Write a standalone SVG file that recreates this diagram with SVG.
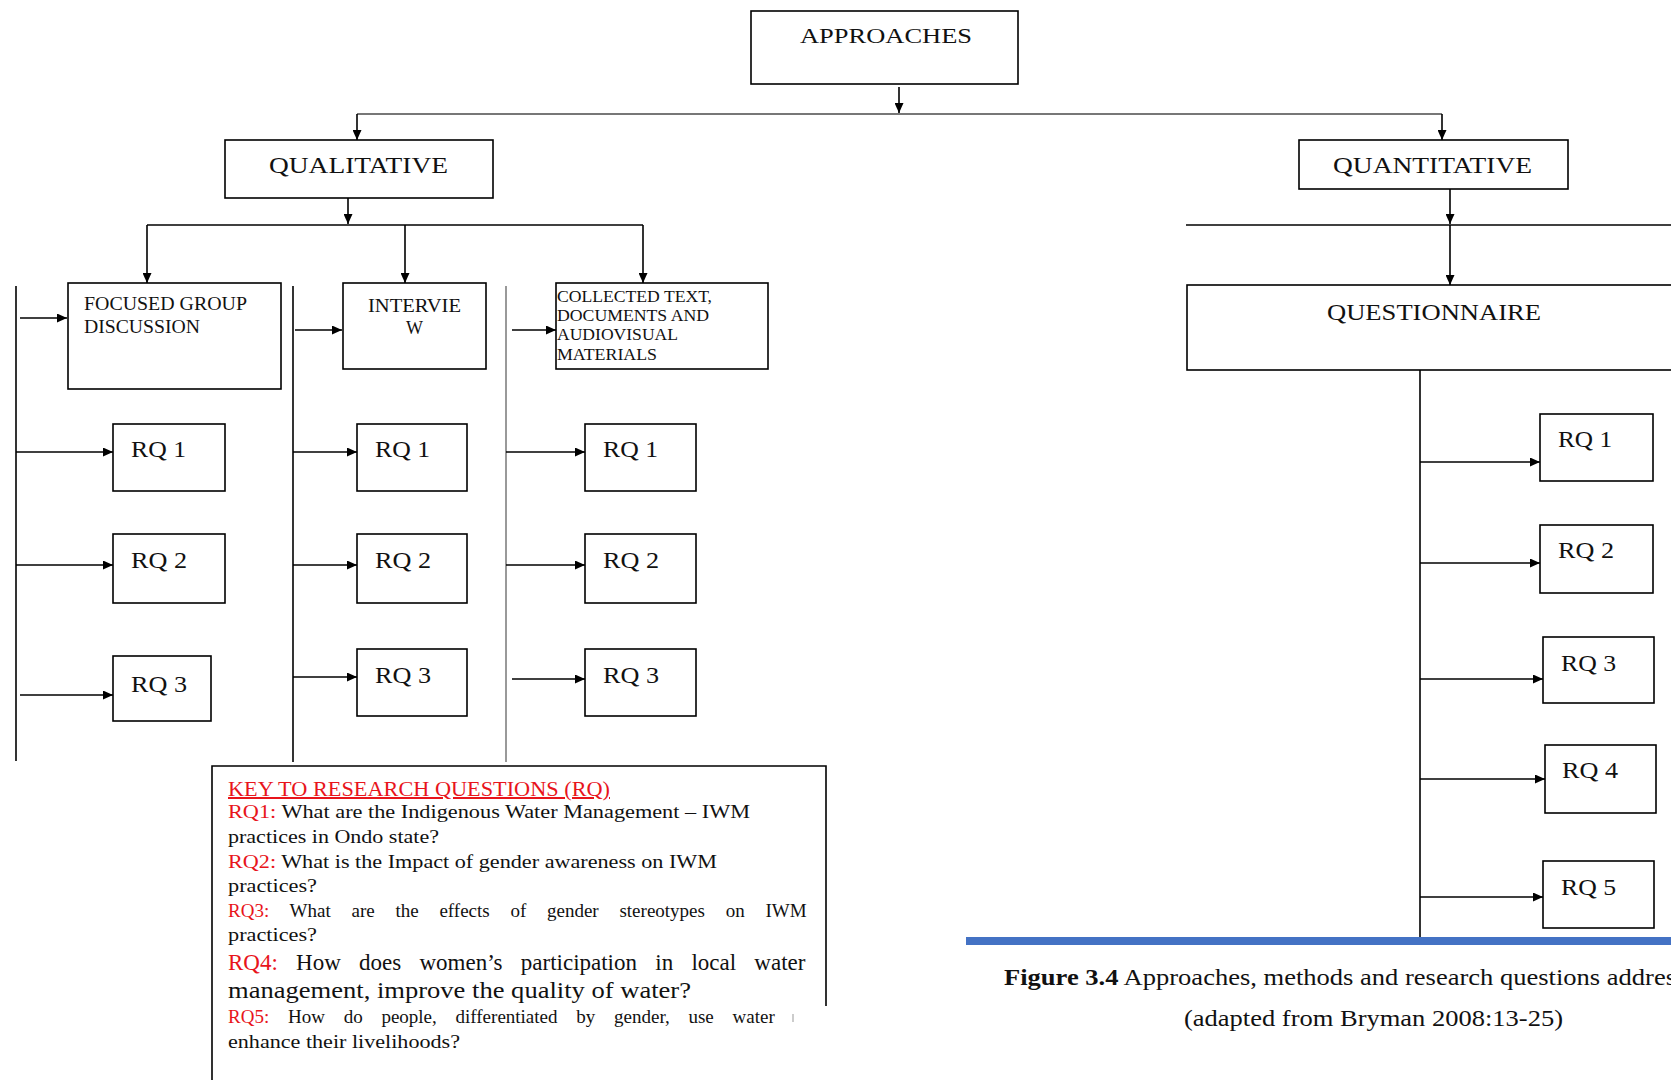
<svg xmlns="http://www.w3.org/2000/svg" width="1671" height="1080" viewBox="0 0 1671 1080">
<style>
.box{fill:#fff;stroke:#000;stroke-width:1.6}
.t{font-family:"Liberation Serif","Times New Roman",serif;fill:#111}
.c{stroke:#000;stroke-width:1.6;fill:none}
.ca{stroke:#000;stroke-width:1.6;fill:none;marker-end:url(#ah)}
.red{fill:#e8141b}
</style>
<defs>
<marker id="ah" markerUnits="userSpaceOnUse" markerWidth="10" markerHeight="9" refX="10" refY="4.5" orient="auto">
<path d="M0,0 L10,4.5 L0,9 z" fill="#000"/>
</marker>
</defs>
<rect width="1671" height="1080" fill="#fff"/>

<g id="connectors">
<line class="ca" x1="899" y1="87" x2="899" y2="113"/>
<line x1="357" y1="114" x2="1442" y2="114" stroke="#777" stroke-width="2"/>
<line class="ca" x1="357" y1="114" x2="357" y2="140"/>
<line class="ca" x1="1442" y1="114" x2="1442" y2="140"/>
<line class="ca" x1="348" y1="198" x2="348" y2="224"/>
<line class="c" x1="147" y1="225" x2="643" y2="225"/>
<line class="ca" x1="147" y1="225" x2="147" y2="283"/>
<line class="ca" x1="405" y1="225" x2="405" y2="283"/>
<line class="ca" x1="643" y1="225" x2="643" y2="283"/>
<line class="ca" x1="1450" y1="189" x2="1450" y2="224"/>
<line class="c" x1="1186" y1="225" x2="1671" y2="225"/>
<line class="ca" x1="1450" y1="225" x2="1450" y2="285"/>
<line class="c" x1="16" y1="286" x2="16" y2="761"/>
<line class="c" x1="293" y1="286" x2="293" y2="762"/>
<line x1="506" y1="286" x2="506" y2="762" stroke="#555" stroke-width="1.2"/>
<line class="ca" x1="20" y1="318" x2="67" y2="318"/>
<line class="ca" x1="295" y1="330" x2="342" y2="330"/>
<line class="ca" x1="512" y1="330" x2="556" y2="330"/>
<line class="ca" x1="16" y1="452" x2="113" y2="452"/>
<line class="ca" x1="16" y1="565" x2="113" y2="565"/>
<line class="ca" x1="20" y1="695" x2="113" y2="695"/>
<line class="ca" x1="293" y1="452" x2="357" y2="452"/>
<line class="ca" x1="293" y1="565" x2="357" y2="565"/>
<line class="ca" x1="293" y1="677" x2="357" y2="677"/>
<line class="ca" x1="506" y1="452" x2="585" y2="452"/>
<line class="ca" x1="506" y1="565" x2="585" y2="565"/>
<line class="ca" x1="512" y1="679" x2="585" y2="679"/>
<line class="c" x1="1420" y1="370" x2="1420" y2="937"/>
<line class="ca" x1="1420" y1="462" x2="1540" y2="462"/>
<line class="ca" x1="1420" y1="563" x2="1540" y2="563"/>
<line class="ca" x1="1420" y1="679" x2="1543" y2="679"/>
<line class="ca" x1="1420" y1="779" x2="1545" y2="779"/>
<line class="ca" x1="1420" y1="897" x2="1543" y2="897"/>
</g>

<g id="approaches"><rect class="box" x="751" y="11" width="267" height="73"/><text class="t" x="800" y="43" font-size="22" textLength="172" lengthAdjust="spacingAndGlyphs">APPROACHES</text></g>
<g id="qualitative"><rect class="box" x="225" y="140" width="268" height="58"/><text class="t" x="269" y="173" font-size="24" textLength="179" lengthAdjust="spacingAndGlyphs">QUALITATIVE</text></g>
<g id="quantitative"><rect class="box" x="1299" y="140" width="269" height="49"/><text class="t" x="1333" y="173" font-size="24" textLength="199" lengthAdjust="spacingAndGlyphs">QUANTITATIVE</text></g>
<g id="fgd"><rect class="box" x="68" y="283" width="213" height="106"/><text class="t" font-size="18"><tspan x="84" y="310" textLength="163" lengthAdjust="spacingAndGlyphs">FOCUSED GROUP</tspan><tspan x="84" y="333" textLength="116" lengthAdjust="spacingAndGlyphs">DISCUSSION</tspan></text></g>
<g id="interview"><rect class="box" x="343" y="283" width="143" height="86"/><text class="t" font-size="18"><tspan x="368" y="312" textLength="93" lengthAdjust="spacingAndGlyphs">INTERVIE</tspan><tspan x="406" y="334">W</tspan></text></g>
<g id="collected"><rect class="box" x="556" y="283" width="212" height="86"/><text class="t" font-size="17"><tspan x="557" y="302" textLength="155" lengthAdjust="spacingAndGlyphs">COLLECTED TEXT,</tspan><tspan x="557" y="321" textLength="152" lengthAdjust="spacingAndGlyphs">DOCUMENTS AND</tspan><tspan x="557" y="340" textLength="121" lengthAdjust="spacingAndGlyphs">AUDIOVISUAL</tspan><tspan x="557" y="360" textLength="100" lengthAdjust="spacingAndGlyphs">MATERIALS</tspan></text></g>
<g id="questionnaire"><rect class="box" x="1187" y="285" width="500" height="85"/><text class="t" x="1327" y="320" font-size="23" textLength="214" lengthAdjust="spacingAndGlyphs">QUESTIONNAIRE</text></g>

<g id="fgd-rq1"><rect class="box" x="113" y="424" width="112" height="67"/><text class="t" x="131" y="457" font-size="24" textLength="55" lengthAdjust="spacingAndGlyphs">RQ 1</text></g>
<g id="fgd-rq2"><rect class="box" x="113" y="534" width="112" height="69"/><text class="t" x="131" y="568" font-size="24" textLength="56" lengthAdjust="spacingAndGlyphs">RQ 2</text></g>
<g id="fgd-rq3"><rect class="box" x="113" y="656" width="98" height="65"/><text class="t" x="131" y="692" font-size="24" textLength="56" lengthAdjust="spacingAndGlyphs">RQ 3</text></g>
<g id="int-rq1"><rect class="box" x="357" y="424" width="110" height="67"/><text class="t" x="375" y="457" font-size="24" textLength="55" lengthAdjust="spacingAndGlyphs">RQ 1</text></g>
<g id="int-rq2"><rect class="box" x="357" y="534" width="110" height="69"/><text class="t" x="375" y="568" font-size="24" textLength="56" lengthAdjust="spacingAndGlyphs">RQ 2</text></g>
<g id="int-rq3"><rect class="box" x="357" y="649" width="110" height="67"/><text class="t" x="375" y="683" font-size="24" textLength="56" lengthAdjust="spacingAndGlyphs">RQ 3</text></g>
<g id="col-rq1"><rect class="box" x="585" y="424" width="111" height="67"/><text class="t" x="603" y="457" font-size="24" textLength="55" lengthAdjust="spacingAndGlyphs">RQ 1</text></g>
<g id="col-rq2"><rect class="box" x="585" y="534" width="111" height="69"/><text class="t" x="603" y="568" font-size="24" textLength="56" lengthAdjust="spacingAndGlyphs">RQ 2</text></g>
<g id="col-rq3"><rect class="box" x="585" y="649" width="111" height="67"/><text class="t" x="603" y="683" font-size="24" textLength="56" lengthAdjust="spacingAndGlyphs">RQ 3</text></g>

<g id="q-rq1"><rect class="box" x="1540" y="414" width="113" height="67"/><text class="t" x="1558" y="447" font-size="23" textLength="54" lengthAdjust="spacingAndGlyphs">RQ 1</text></g>
<g id="q-rq2"><rect class="box" x="1540" y="525" width="113" height="68"/><text class="t" x="1558" y="558" font-size="23" textLength="56" lengthAdjust="spacingAndGlyphs">RQ 2</text></g>
<g id="q-rq3"><rect class="box" x="1543" y="637" width="111" height="66"/><text class="t" x="1561" y="671" font-size="23" textLength="55" lengthAdjust="spacingAndGlyphs">RQ 3</text></g>
<g id="q-rq4"><rect class="box" x="1545" y="745" width="111" height="68"/><text class="t" x="1562" y="778" font-size="23" textLength="56" lengthAdjust="spacingAndGlyphs">RQ 4</text></g>
<g id="q-rq5"><rect class="box" x="1543" y="861" width="111" height="67"/><text class="t" x="1561" y="895" font-size="23" textLength="55" lengthAdjust="spacingAndGlyphs">RQ 5</text></g>

<rect x="966" y="937" width="705" height="8" fill="#4472c4"/>

<g id="key">
<path d="M212,1080 L212,766 L826,766 L826,1006" fill="none" stroke="#000" stroke-width="1.6"/>
<text class="t red" x="228" y="796" font-size="20" text-decoration="underline" textLength="382" lengthAdjust="spacingAndGlyphs">KEY TO RESEARCH QUESTIONS (RQ)</text>
<text class="t" x="228" y="818" font-size="19" textLength="522" lengthAdjust="spacingAndGlyphs"><tspan class="red">RQ1:</tspan> What are the Indigenous Water Management – IWM</text>
<text class="t" x="228" y="843" font-size="19" textLength="211" lengthAdjust="spacingAndGlyphs">practices in Ondo state?</text>
<text class="t" x="228" y="868" font-size="19" textLength="489" lengthAdjust="spacingAndGlyphs"><tspan class="red">RQ2:</tspan> What is the Impact of gender awareness on IWM</text>
<text class="t" x="228" y="892" font-size="19" textLength="89" lengthAdjust="spacingAndGlyphs">practices?</text>
<text class="t" x="228" y="917" font-size="19" word-spacing="16"><tspan class="red">RQ3:</tspan> What are the effects of gender stereotypes on IWM</text>
<text class="t" x="228" y="941" font-size="19" textLength="89" lengthAdjust="spacingAndGlyphs">practices?</text>
<text class="t" x="228" y="970" font-size="23" word-spacing="12.5"><tspan class="red">RQ4:</tspan> How does women’s participation in local water</text>
<text class="t" x="228" y="998" font-size="23" textLength="463" lengthAdjust="spacingAndGlyphs">management, improve the quality of water?</text>
<text class="t" x="228" y="1023" font-size="19" word-spacing="14"><tspan class="red">RQ5:</tspan> How do people, differentiated by gender, use water</text>
<line x1="793" y1="1014" x2="793" y2="1022" stroke="#aaa" stroke-width="1.2"/>
<text class="t" x="228" y="1048" font-size="19" textLength="232" lengthAdjust="spacingAndGlyphs">enhance their livelihoods?</text>
</g>

<g id="caption">
<text class="t" x="1004" y="985" font-size="23" textLength="672" lengthAdjust="spacingAndGlyphs"><tspan font-weight="bold">Figure 3.4</tspan> Approaches, methods and research questions addres</text>
<text class="t" x="1184" y="1026" font-size="23" textLength="379" lengthAdjust="spacingAndGlyphs">(adapted from Bryman 2008:13-25)</text>
</g>
</svg>
